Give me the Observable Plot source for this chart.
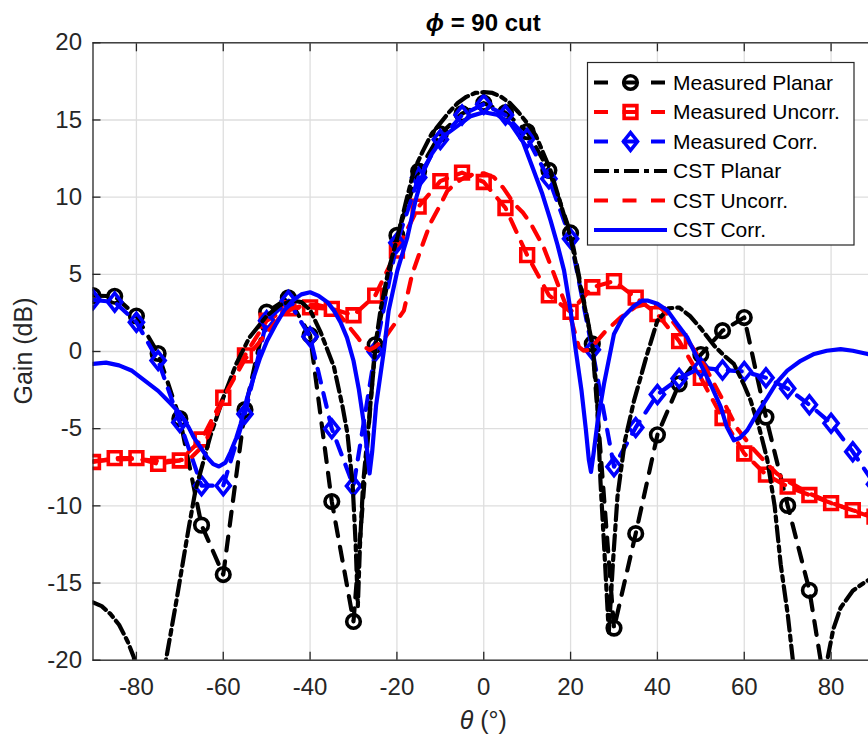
<!DOCTYPE html>
<html>
<head>
<meta charset="utf-8">
<script src="https://cdn.jsdelivr.net/npm/d3@7"></script>
<script src="https://cdn.jsdelivr.net/npm/@observablehq/plot@0.6"></script>
<style>
html, body { margin: 0; padding: 0; background: #fff; overflow: hidden; width: 868px; height: 740px; }
#chart svg { display: block; }
</style>
</head>
<body>
<div id="chart"></div>
<script>
// ---------- data ----------
const xTicks = [-80, -60, -40, -20, 0, 20, 40, 60, 80];
const yTicks = [-20, -15, -10, -5, 0, 5, 10, 15, 20];

const measTheta = [-90,-85,-80,-75,-70,-65,-60,-55,-50,-45,-40,-35,-30,-25,-20,-15,-10,-5,0,5,10,15,20,25,30,35,40,45,50,55,60,65,70,75,80,85,90];
const measPlanar = [3.62,3.58,2.3,-0.13,-4.35,-11.25,-14.45,-3.77,2.55,3.48,1.05,-9.72,-17.49,0.43,7.52,11.68,14.1,15.41,16.09,15.47,14.25,11.74,7.68,0.49,-17.92,-11.8,-5.4,-2.1,-0.2,1.35,2.2,-4.25,-9.97,-15.47,-24.2,null,null];
const measUncorr = [-7.16,-6.91,-6.91,-7.28,-7.06,-5.7,-3.0,-0.25,2.0,2.8,2.86,2.76,2.35,3.62,6.54,9.39,11.04,11.59,10.98,9.3,6.24,3.64,2.57,4.16,4.56,3.49,2.42,0.67,-1.71,-4.31,-6.61,-7.98,-8.75,-9.3,-9.82,-10.28,-10.7];
const measCorr = [3.35,3.2,1.9,-0.58,-4.6,-8.69,-8.69,-4.05,2.0,3.3,0.95,-5.0,-8.72,0.0,7.05,11.28,13.73,15.32,16.02,15.32,13.82,11.19,7.31,0.12,-7.46,-4.92,-2.78,-1.75,-1.05,-1.2,-1.3,-1.7,-2.4,-3.45,-4.65,-6.5,-8.6];

const cstPlanarTheta = [-90,-88,-86,-84,-82,-80.6,-79,-77,-75,-73.2,-71,-68,-66.4,-63,-60,-57,-54,-50,-47,-44,-42,-40,-37.5,-34.5,-32.5,-31.4,-30.2,-29.5,-29,-28.5,-27.8,-26.6,-25.5,-24.9,-23.8,-22,-19.9,-18,-16.1,-14,-12,-10,-8,-6,-4,-2,0,2,4,6,8,10,12,15.4,18,20,22,23.1,25,26,26.9,27.9,28.8,29.8,30.8,32.5,34.6,37.7,40,42.5,45,47.5,50,53,55.5,57.6,60,61.5,63.5,65.3,67,68.4,70,71.2,73,75,77,79.1,80.5,82.2,85,88,90];
const cstPlanarGain = [-16.25,-16.5,-17.0,-17.7,-18.8,-19.8,-23,-30,-26,-20,-16.5,-11.5,-9.0,-5.5,-3.0,-0.8,0.9,2.3,3.0,3.3,3.2,2.7,1.2,-1.0,-3.6,-5.3,-8.6,-12.5,-16.5,-12.5,-8.6,-5.0,-1.5,0.5,2.65,5.2,7.4,9.6,11.72,13.0,14.1,14.8,15.5,16.1,16.5,16.75,16.8,16.75,16.5,16.1,15.5,14.8,14.0,11.72,9.3,7.4,4.6,3.1,0.5,-2.5,-8.5,-13.5,-18.2,-13.5,-9.4,-5.8,-3.2,-0.1,2.0,2.8,2.85,2.3,1.5,0.4,-0.3,-0.8,-2.2,-3.2,-5.0,-7.0,-10,-13.8,-17,-20,-26,-32,-26,-20,-18,-16.6,-15.5,-14.9,-14.6];

const cstUncorrTheta = [-90,-85,-80,-75,-70,-67.5,-65,-63.7,-62,-59,-55,-52,-50,-47,-44,-41,-38,-35,-33,-31,-29,-27.5,-26.3,-25,-23,-21.5,-20,-18.4,-16.5,-14,-12.3,-10,-8.4,-6,-4,-2,0,2.3,4.5,6.9,9,10.8,13.8,16.2,18.5,20,21.9,23,24,25.5,28,31.5,35,38,40,42,45,48,51,54.6,58.4,62,65,67.5,70,75,80,85,90];
const cstUncorrGain = [-7.1,-7.0,-6.95,-7.1,-7.05,-6.9,-6.2,-5.6,-4.4,-2.5,-0.5,0.5,1.2,2.2,2.8,3.0,3.0,2.8,2.3,1.6,0.9,0.3,0.1,0.3,0.8,1.4,2.0,2.65,5.0,7.0,8.3,9.5,10.4,11.0,11.35,11.5,11.55,11.3,10.6,9.6,9.0,8.3,6.75,5.0,3.3,2.2,0.3,0.05,0.1,0.5,1.3,2.2,2.9,3.1,3.0,2.5,1.4,0.3,-1.0,-2.9,-5.0,-6.3,-7.2,-7.9,-8.4,-9.2,-9.8,-10.3,-10.8];

const cstCorrTheta = [-90,-87,-84,-81,-78,-75,-72,-70,-68,-66.8,-65,-63.7,-62.3,-61,-59.5,-58.3,-57,-56,-54.5,-53,-51.5,-49.9,-48,-46,-44,-42,-40,-38,-36,-34.5,-33,-31.5,-30,-28.8,-27.6,-26.9,-26.3,-25.7,-24.8,-23,-21.9,-19.9,-17.6,-15.7,-13.8,-12,-9,-6.1,-3,0,3,6.2,9,11.5,13.5,15.4,17,18.5,20,21.2,22.5,23.5,24.2,24.7,25.3,26.2,27.7,30,32,34.6,36.5,37.7,40,42.3,44.5,46.9,48.8,50.7,52.7,54.6,56,57.6,59,60.7,63,65.3,67.5,69.9,73,76.1,79,82.2,85,88.4,90];
const cstCorrGain = [-0.8,-0.72,-0.9,-1.25,-1.9,-2.55,-3.4,-4.0,-4.9,-5.56,-6.3,-6.86,-7.3,-7.45,-7.2,-6.5,-5.6,-4.7,-3.0,-1.67,-0.4,0.7,1.7,2.65,3.3,3.7,3.84,3.6,3.2,2.65,1.9,0.9,-0.6,-2.4,-4.7,-6.3,-7.9,-6.5,-3.5,0.07,2.65,5.24,7.4,9.8,11.72,12.8,14.0,14.6,15.25,15.5,15.35,14.75,13.6,11.72,10.2,8.48,6.9,5.24,2.65,0.07,-2.5,-5.0,-7.0,-7.8,-6.6,-4.6,-2.1,1.14,2.2,2.95,3.3,3.3,3.1,2.65,1.8,0.9,-0.2,-1.24,-2.4,-3.6,-4.9,-5.75,-5.6,-5.1,-4.0,-3.0,-2.0,-1.24,-0.6,-0.16,0.05,0.15,0.05,-0.16,-0.3];

const seriesNames = ["Measured Planar", "Measured Uncorr.", "Measured Corr.", "CST Planar", "CST Uncorr.", "CST Corr."];
const seriesColors = ["#000000", "#ff0000", "#0000ff", "#000000", "#ff0000", "#0000ff"];

// ---------- helpers ----------
const rows = (xs, ys) => xs.map((x, i) => ({theta: x, gain: ys[i]}));
const FONT = "'Liberation Sans', Arial, Helvetica, sans-serif";
const DASHED = "14,11";
const DASHDOT = "15,5,5,5";
const LW = 4.2;
const MW = 3.6;
const diamond = {
  draw(ctx, size) {
    const r = Math.sqrt(size / Math.PI);
    ctx.moveTo(0, -1.2 * r);
    ctx.lineTo(0.95 * r, 0);
    ctx.lineTo(0, 1.2 * r);
    ctx.lineTo(-0.95 * r, 0);
    ctx.closePath();
  }
};

const mp = rows(measTheta, measPlanar);
const mu = rows(measTheta, measUncorr);
const mc = rows(measTheta, measCorr);
const cp = rows(cstPlanarTheta, cstPlanarGain);
const cu = rows(cstUncorrTheta, cstUncorrGain);
const cc = rows(cstCorrTheta, cstCorrGain);

const W = 868, H = 740;
const plotLeft = 92.5, plotTop = 42.3, plotBottom = 659.7, plotRight = 874;

const lineOpts = (color, dash) => ({x: "theta", y: "gain", stroke: color, strokeWidth: LW, strokeDasharray: dash, clip: true, curve: "linear"});

const chart = Plot.plot({
  width: W,
  height: H,
  marginLeft: plotLeft,
  marginRight: W - plotRight,
  marginTop: plotTop,
  marginBottom: H - plotBottom,
  style: {fontFamily: FONT, color: "#262626", background: "white", overflow: "hidden"},
  x: {domain: [-90, 90]},
  y: {domain: [-20, 20]},
  marks: [
    Plot.gridX(xTicks, {stroke: "#dedede", strokeOpacity: 1, strokeWidth: 1.3}),
    Plot.gridY(yTicks, {stroke: "#dedede", strokeOpacity: 1, strokeWidth: 1.3}),
    // measured (dashed + hollow markers)
    Plot.line(mp, lineOpts(seriesColors[0], DASHED)),
    Plot.dot(mp, {x: "theta", y: "gain", symbol: "circle", r: 6.8, stroke: seriesColors[0], strokeWidth: MW, fill: "none", clip: true}),
    Plot.line(mu, lineOpts(seriesColors[1], DASHED)),
    Plot.dot(mu, {x: "theta", y: "gain", symbol: "square", r: 7.2, stroke: seriesColors[1], strokeWidth: MW, fill: "none", clip: true}),
    Plot.line(mc, lineOpts(seriesColors[2], DASHED)),
    Plot.dot(mc, {x: "theta", y: "gain", symbol: diamond, r: 7.4, stroke: seriesColors[2], strokeWidth: MW, fill: "none", clip: true}),
    // simulated
    Plot.line(cp, lineOpts(seriesColors[3], DASHDOT)),
    Plot.line(cu, lineOpts(seriesColors[4], DASHED)),
    Plot.line(cc, lineOpts(seriesColors[5], null)),
    // box and inward ticks
    Plot.frame({stroke: "#262626", strokeWidth: 1.3}),
    Plot.axisX(xTicks, {anchor: "bottom", tickSize: 8, dy: -8, tickFormat: () => "", label: null, strokeWidth: 1.3}),
    Plot.axisX(xTicks, {anchor: "top", tickSize: 8, dy: 8, tickFormat: () => "", label: null, strokeWidth: 1.3}),
    Plot.axisY(yTicks, {anchor: "left", tickSize: 8, dx: 8, tickFormat: () => "", label: null, strokeWidth: 1.3}),
    Plot.axisX(xTicks, {anchor: "bottom", tickSize: 0, tickPadding: 18, fontSize: 24, tickFormat: d => String(d), label: null}),
    Plot.axisY(yTicks, {anchor: "left", tickSize: 0, tickPadding: 11, fontSize: 24, tickFormat: d => String(d), label: null})
  ]
});

document.getElementById("chart").appendChild(chart);

// ---------- titles ----------
const svg = d3.select(chart);
const cx = (plotLeft + plotRight) / 2;

const title = svg.append("text")
  .attr("x", cx).attr("y", 31)
  .attr("text-anchor", "middle")
  .attr("font-family", FONT).attr("font-size", 24).attr("font-weight", "bold")
  .attr("fill", "#000");
title.append("tspan").attr("font-style", "italic").text("\u03D5");
title.append("tspan").text(" = 90 cut");

const xl = svg.append("text")
  .attr("x", cx).attr("y", 729)
  .attr("text-anchor", "middle")
  .attr("font-family", FONT).attr("font-size", 25)
  .attr("fill", "#262626");
xl.append("tspan").attr("font-style", "italic").text("\u03B8");
xl.append("tspan").text(" (\u00B0)");

svg.append("text")
  .attr("transform", `translate(31.5, ${(plotTop + plotBottom) / 2}) rotate(-90)`)
  .attr("text-anchor", "middle")
  .attr("font-family", FONT).attr("font-size", 25)
  .attr("fill", "#262626")
  .text("Gain (dB)");

// ---------- legend ----------
const lg = svg.append("g");
lg.append("rect")
  .attr("x", 587.5).attr("y", 62.5).attr("width", 266.5).attr("height", 182.5)
  .attr("fill", "white").attr("stroke", "#262626").attr("stroke-width", 1.2);

const legendDash = ["14,14.5", "14,14.5", "14,14.5", DASHDOT, "14,14.5", null];
const legendSymbols = ["circle", "square", diamond, null, null, null];
const legendR = [6.8, 7.2, 7.4, 0, 0, 0];
seriesNames.forEach((name, i) => {
  const y = 82.5 + i * 29.5;
  lg.append("line")
    .attr("x1", 594).attr("x2", 667).attr("y1", y).attr("y2", y)
    .attr("stroke", seriesColors[i]).attr("stroke-width", LW)
    .attr("stroke-dasharray", legendDash[i]);
  if (legendSymbols[i]) {
    const sym = typeof legendSymbols[i] === "string"
      ? (legendSymbols[i] === "circle" ? d3.symbolCircle : d3.symbolSquare)
      : legendSymbols[i];
    lg.append("path")
      .attr("transform", `translate(630.5, ${y})`)
      .attr("d", d3.symbol(sym, Math.PI * legendR[i] * legendR[i])())
      .attr("fill", "none").attr("stroke", seriesColors[i]).attr("stroke-width", MW);
  }
  lg.append("text")
    .attr("x", 673).attr("y", y).attr("dy", "0.35em")
    .attr("text-anchor", "start")
    .attr("font-family", FONT).attr("font-size", 21)
    .attr("fill", "#000")
    .text(name);
});
</script>
</body>
</html>
